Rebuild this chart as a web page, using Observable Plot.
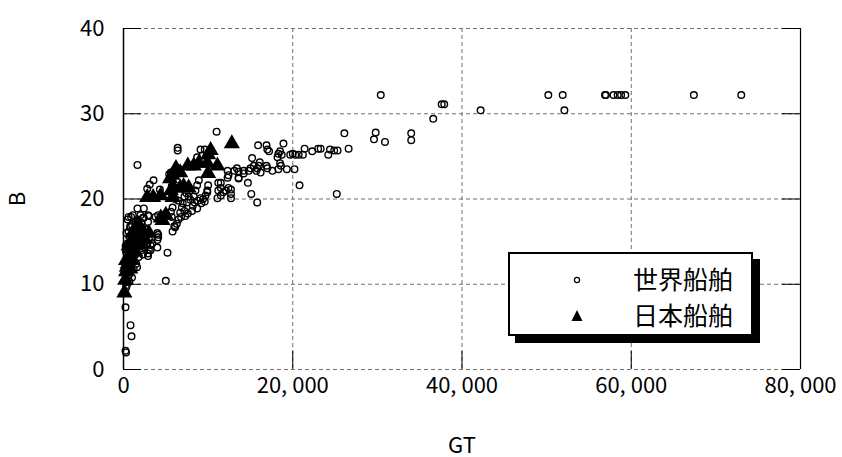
<!DOCTYPE html>
<html>
<head>
<meta charset="utf-8">
<script src="https://cdn.jsdelivr.net/npm/d3@7"></script>
<script src="https://cdn.jsdelivr.net/npm/@observablehq/plot@0.6"></script>
<style>
  html, body { margin: 0; padding: 0; background: #fff; }
  #wrap { position: relative; width: 842px; height: 457px; }
  #legend {
    position: absolute; left: 508px; top: 252px; width: 245px; height: 84px;
    box-sizing: border-box; border: 2px solid #000; background: #fff;
    box-shadow: 7px 7px 0 #000;
    font-family: "Noto Sans CJK JP", sans-serif; font-size: 25px; color: #000;
  }
  .row { position: absolute; left: 0; height: 36px; width: 100%; }
  .row svg { position: absolute; left: 59px; top: 10px; }
  .row span { position: absolute; left: 123px; top: -2px; line-height: 36px; }
</style>
</head>
<body>
<div id="wrap">
  <div id="chart"></div>
  <div id="legend"></div>
</div>
<script>
// Gross tonnage (GT) vs. breadth (B, m) of ships
const worldShips = [
  // large ships
  [73000,32.2],[67400,32.2],[59300,32.2],[58800,32.2],[58400,32.2],[57900,32.2],[57000,32.2],[56900,32.2],
  [51900,32.2],[50200,32.2],[52100,30.4],[42200,30.4],[37900,31.1],[37600,31.1],[36600,29.4],[34000,27.7],
  [34000,26.9],[30400,32.2],[29800,27.8],[29600,27.0],[30900,26.7],[26100,27.7],
  // 20,000 - 27,000
  [26600,25.9],[25300,25.7],[24900,25.7],[24400,25.8],[24200,25.2],[23300,25.9],[23000,25.9],[22300,25.6],
  [21400,25.9],[21200,25.2],[20700,25.2],[20300,25.2],[20000,25.3],[19700,25.2],[20200,23.5],[20800,21.6],
  [25200,20.6],
  // 15,000 - 20,000
  [18900,26.5],[18500,25.6],[18700,25.2],[18300,25.3],[18200,24.9],[18600,23.9],[19300,23.5],[18300,23.5],
  [17600,23.3],[15900,26.3],[16900,26.3],[17000,25.8],[17200,25.6],[15200,24.8],[16100,24.3],[16900,23.9],
  [17000,23.6],[15700,23.3],[16200,23.1],[15800,23.6],[18500,24.2],[15800,19.6],
  // 10,000 - 15,000
  [14800,23.3],[13600,23.2],[13100,23.3],[12400,22.8],[12300,22.5],[13600,22.4],[14700,21.9],[15100,20.6],
  [12700,21.1],[11800,20.8],[11200,21.0],[11500,20.4],[11100,20.1],[11000,27.9],[11500,21.9],[11200,21.9],
  [12100,21.0],[12400,21.3],[12700,20.6],[12700,20.1],[13600,22.5],[14200,23.0],[13400,23.6],[12300,23.3],
  [14200,23.3],[15000,23.6],[15400,23.9],[16000,23.9],[11500,21.3],
  // 5,000 - 10,000
  [9600,25.8],[9100,25.8],[9300,25.1],[8700,24.9],[6400,26.0],[6400,25.7],[9900,20.8],[10000,21.6],
  [8900,22.2],[8700,21.6],[8500,21.0],[9900,21.0],[9700,20.4],[9100,20.1],[8800,19.8],[8300,20.3],
  [7700,20.3],[7200,20.3],[6500,19.8],[7000,19.5],[7500,19.6],[8200,19.2],[8700,18.9],[9200,19.5],
  [9600,19.7],[7200,18.6],[6800,17.9],[6500,17.6],[6300,17.1],[6100,16.7],[5800,16.2],[5700,17.9],
  [5600,18.5],[8100,18.6],[7600,18.3],[7300,18.0],[6900,19.0],[6100,20.0],[5700,21.5],[5400,22.9],
  [5600,23.1],[5800,19.0],[6000,16.8],[9400,20.0],[7900,19.9],[8400,19.6],[6700,18.4],[7400,20.7],
  // 1,000 - 5,000
  [1650,24.0],[3550,22.2],[3100,21.7],[2800,21.2],[4300,21.1],[600,17.9],[1650,18.9],[2400,18.9],
  [2900,18.1],[3800,17.9],[900,17.9],[2300,17.8],[2900,17.3],[800,16.7],[2200,16.7],[2400,16.0],
  [2800,14.8],[4000,16.0],[4000,15.2],[4000,14.3],[3400,14.8],[5200,13.7],[5000,10.4],[4100,18.1],
  [3000,18.0],[2000,18.1],[1100,18.1],[4100,15.8],[4100,15.5],[2900,13.6],[3000,14.0],[3200,14.6],
  [5000,18.3],
  // small ships
  [300,9.6],[200,10.2],[400,10.8],[300,11.3],[600,11.0],[500,11.8],[800,11.5],[700,12.3],
  [400,12.6],[900,12.0],[1000,12.9],[600,13.3],[1200,13.0],[1100,13.8],[800,14.2],[1400,13.5],
  [1300,14.5],[900,15.0],[1600,14.2],[1500,15.3],[1100,15.8],[1800,15.0],[1700,16.0],[1300,16.5],
  [2000,15.6],[1900,16.8],[2200,16.2],[2400,15.0],[2100,14.0],[1800,13.2],[1500,12.4],[1200,11.8],
  [2600,15.5],[2800,14.8],[2300,13.5],[2500,14.3],[500,14.8],[700,15.6],[300,13.8],[200,12.0],
  [1000,17.0],[1400,17.3],[600,16.2],[800,16.8],[2700,16.4],[3000,15.3],[3200,14.0],[2900,13.3],
  [1600,12.0],[1000,10.8],[700,10.3],[400,9.9],[150,11.4],[250,14.5],[1200,16.3],[1700,17.5],
  [2100,17.2],[2400,17.8],[500,17.6],[350,16.0],
  [240,7.3],[830,5.2],[950,3.9],[240,2.2],[300,2.0]
];

const japanShips = [
  [12800,26.5],[10300,25.7],[10000,25.2],[7600,23.9],[8300,23.9],[8900,24.2],[9900,24.2],[11100,23.9],
  [10000,23.0],[6200,23.6],[5800,22.8],[5500,22.4],[5900,21.3],[5600,21.0],[6700,21.3],[7100,21.5],
  [7700,21.3],[5800,20.2],[2800,20.2],[3500,20.2],[4400,20.4],[5000,18.1],[4600,17.5],[1700,17.1],
  [1600,16.5],[1400,15.8],[1200,15.0],[900,14.2],[700,13.2],[500,12.4],[300,11.5],[200,10.5],
  [100,9.0],[1000,12.8],[1400,13.8],[2000,14.6],[2500,15.3],[3000,16.0],[2200,16.2],[800,11.8],
  [400,12.0],[4400,17.8],[6700,23.1],[1100,16.0],[600,14.5],[300,12.8]
];

const xTicks = [0, 20000, 40000, 60000, 80000];
const xTickLabels = ["0", "20, 000", "40, 000", "60, 000", "80, 000"];
const xGrid = [20000, 40000, 60000];
const yTicks = [0, 10, 20, 30, 40];
const seriesNames = ["世界船舶", "日本船舶"];

const W = 842, H = 457, mL = 123, mR = 42, mT = 28, mB = 88;
const frameW = W - mL - mR, frameH = H - mT - mB;
const tickLen = 18;
const dash = {stroke: "#707070", strokeDasharray: "4,3", strokeWidth: 1};

const chart = Plot.plot({
  width: W, height: H,
  marginLeft: mL, marginRight: mR, marginTop: mT, marginBottom: mB,
  style: {fontFamily: "'Noto Sans CJK JP', sans-serif", fontSize: "22px", background: "#fff", color: "#000"},
  x: {domain: [0, 80000]},
  y: {domain: [0, 40]},
  marks: [
    // dashed grid and frame edges
    Plot.ruleY(yTicks, dash),
    Plot.ruleX(xGrid, dash),
    // inward ticks
    Plot.ruleY(yTicks, {stroke: "#000", insetRight: frameW - tickLen}),
    Plot.ruleY(yTicks, {stroke: "#000", insetLeft: frameW - tickLen}),
    Plot.ruleX(xGrid, {stroke: "#000", insetTop: frameH - tickLen}),
    // vertical axis lines
    Plot.ruleX([0], {stroke: "#000", strokeWidth: 1.5}),
    Plot.ruleX([80000], {stroke: "#000", strokeWidth: 1.2}),
    // data
    Plot.dot(worldShips, {x: d => d[0], y: d => d[1], r: 3.3, stroke: "#000", strokeWidth: 1.4, fill: "none"}),
    Plot.dot(japanShips, {x: d => d[0], y: d => d[1], r: 6, symbol: "triangle", fill: "#000", stroke: "none"}),
    // axes
    Plot.axisX(xTicks, {tickSize: 0, tickPadding: 8, tickFormat: d => xTickLabels[xTicks.indexOf(d)],
      label: "GT", labelAnchor: "center", labelArrow: "none", labelOffset: 83}),
    Plot.axisY(yTicks, {tickSize: 0, tickPadding: 19, label: "B", labelAnchor: "center", labelArrow: "none", labelOffset: 114})
  ]
});
document.getElementById("chart").appendChild(chart);

// legend box
const legend = document.getElementById("legend");
seriesNames.forEach((name, i) => {
  const row = document.createElement("div");
  row.className = "row";
  row.style.top = (8 + i * 36) + "px";
  const sym = i === 0
    ? '<svg width="16" height="16"><circle cx="8" cy="8" r="2.6" fill="none" stroke="#000" stroke-width="1.2"/></svg>'
    : '<svg width="16" height="16"><path d="M8,2L13.5,13L2.5,13Z" fill="#000"/></svg>';
  row.innerHTML = sym + '<span>' + name + '</span>';
  legend.appendChild(row);
});
</script>
</body>
</html>
